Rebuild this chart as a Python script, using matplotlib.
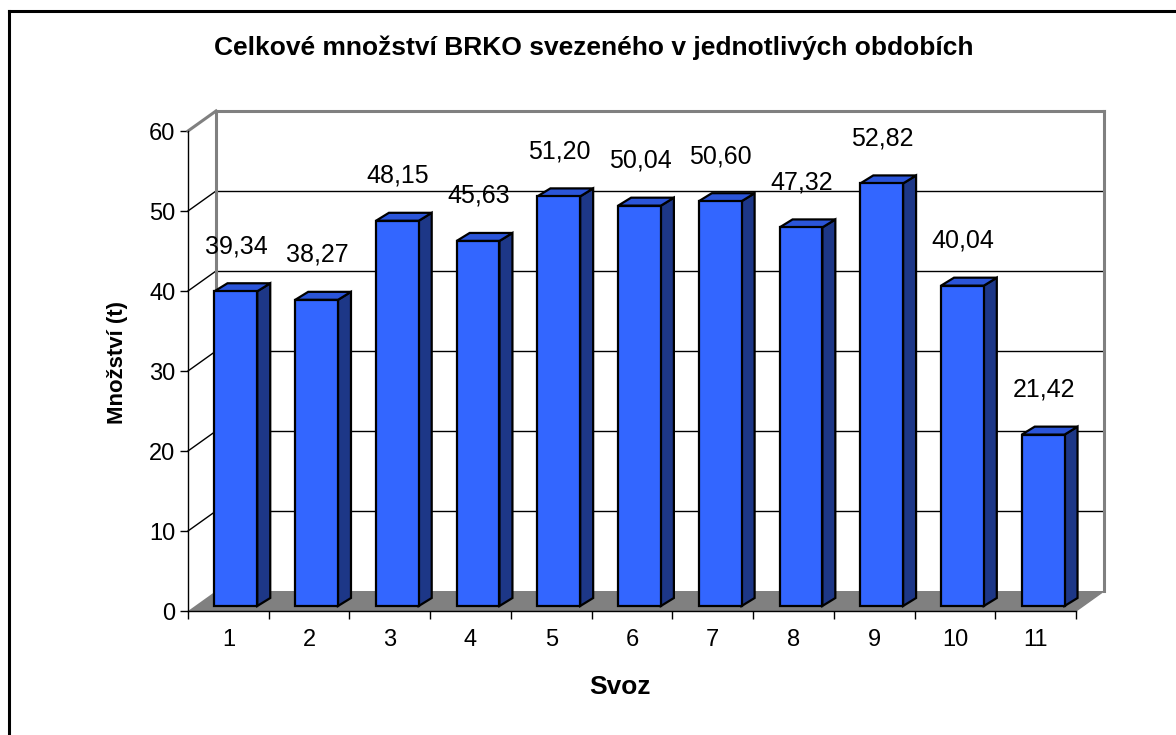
import matplotlib
matplotlib.use('Agg')
import matplotlib.pyplot as plt
from matplotlib.patches import Polygon
from matplotlib.lines import Line2D
from matplotlib.transforms import IdentityTransform

plt.rcParams['font.family'] = ['Liberation Sans', 'DejaVu Sans']

svoz = ['1', '2', '3', '4', '5', '6', '7', '8', '9', '10', '11']
mnozstvi = [39.34, 38.27, 48.15, 45.63, 51.20, 50.04, 50.60, 47.32, 52.82, 40.04, 21.42]
popisky = ['39,34', '38,27', '48,15', '45,63', '51,20', '50,04', '50,60', '47,32', '52,82', '40,04', '21,42']
y_ticks = [0, 10, 20, 30, 40, 50, 60]

W, H = 1176, 735
fig = plt.figure(figsize=(W / 100, H / 100), dpi=100)
ax = fig.add_axes([188 / W, (H - 611) / H, 888 / W, 480 / H])
ax.set_xlim(0, len(svoz))
ax.set_ylim(0, 60)
ax.patch.set_visible(False)

# 3D look: offsets in pixels
depth = (28, 20)        # back wall
bar_off = (7.5, 5)      # bar front face
bar_depth = (13, 8)     # bar top / side
bar_w = 0.53


def px(x, y, off=(0, 0)):
    p = ax.transData.transform((x, y))
    return (p[0] + off[0], p[1] + off[1])


def poly(points, face, edge='none', lw=0, z=1):
    ax.add_patch(Polygon(points, closed=True, facecolor=face, edgecolor=edge,
                         linewidth=lw, transform=IdentityTransform(),
                         clip_on=False, zorder=z))


def line(p1, p2, color, lw, z=2):
    ax.add_line(Line2D([p1[0], p2[0]], [p1[1], p2[1]], color=color, linewidth=lw,
                       transform=IdentityTransform(), clip_on=False, zorder=z))


n = len(svoz)
# floor
poly([px(0, 0), px(n, 0), px(n, 0, depth), px(0, 0, depth)], '#808080', z=1)
# gridlines on back wall and left wall
for t in y_ticks[1:-1]:
    line(px(0, t, depth), px(n, t, depth), 'black', 1.0)
    line(px(0, t), px(0, t, depth), 'black', 1.0)
# wall outlines
line(px(0, 0, depth), px(0, 60, depth), '#808080', 2.2)
line(px(0, 60, depth), px(n, 60, depth), '#808080', 2.2)
line(px(n, 0, depth), px(n, 60, depth), '#808080', 2.2)
line(px(0, 60), px(0, 60, depth), '#808080', 2.2)
line(px(n, 0), px(n, 0, depth), '#808080', 1.0)

# bars
for i, v in enumerate(mnozstvi):
    c = i + 0.5
    x0, x1 = c - bar_w / 2, c + bar_w / 2
    top_off = (bar_off[0] + bar_depth[0], bar_off[1] + bar_depth[1])
    poly([px(x1, 0, bar_off), px(x1, 0, top_off), px(x1, v, top_off), px(x1, v, bar_off)],
         '#1d3787', 'black', 1.6, z=3)
    poly([px(x0, v, bar_off), px(x1, v, bar_off), px(x1, v, top_off), px(x0, v, top_off)],
         '#2b55d9', 'black', 1.6, z=3)
    poly([px(x0, 0, bar_off), px(x1, 0, bar_off), px(x1, v, bar_off), px(x0, v, bar_off)],
         '#3366ff', 'black', 1.6, z=4)
    ax.annotate(popisky[i], xy=(c, v), xytext=(8, 50), textcoords='offset pixels',
                ha='center', va='center', fontsize=18, color='black',
                annotation_clip=False)

# axes
for s in ['top', 'right']:
    ax.spines[s].set_visible(False)
ax.spines['left'].set_linewidth(1.0)
ax.spines['bottom'].set_linewidth(1.0)
ax.spines['left'].set_zorder(5)
ax.spines['bottom'].set_zorder(5)
ax.set_yticks(y_ticks)
ax.set_yticklabels([str(t) for t in y_ticks])
ax.set_xticks(range(n + 1))
ax.set_xticklabels([])
ax.set_xticks([i + 0.5 for i in range(n)], minor=True)
ax.set_xticklabels(svoz, minor=True)
ax.tick_params(axis='y', direction='out', length=6, width=1, labelsize=17, pad=3)
ax.tick_params(axis='x', which='major', direction='out', length=6, width=1)
ax.tick_params(axis='x', which='minor', length=0, labelsize=17, pad=13)

fig.text(594 / W, 1 - 48 / H, 'Celkové množství BRKO svezeného v jednotlivých obdobích',
         ha='center', va='center', fontsize=19, fontweight='bold')
fig.text(620 / W, 1 - 687 / H, 'Svoz', ha='center', va='center', fontsize=19, fontweight='bold')
fig.text(118 / W, 1 - 363 / H, 'Množství (t)', ha='center', va='center', rotation=90,
         fontsize=16, fontweight='bold')

# outer border (left and top edges visible)
fig.add_artist(Line2D([9 / W, 9 / W], [0, 1 - 11 / H], color='black', linewidth=2.2,
                      transform=fig.transFigure))
fig.add_artist(Line2D([9 / W, 1], [1 - 11 / H, 1 - 11 / H], color='black', linewidth=2.2,
                      transform=fig.transFigure))

fig.savefig('out.png', dpi=100)
